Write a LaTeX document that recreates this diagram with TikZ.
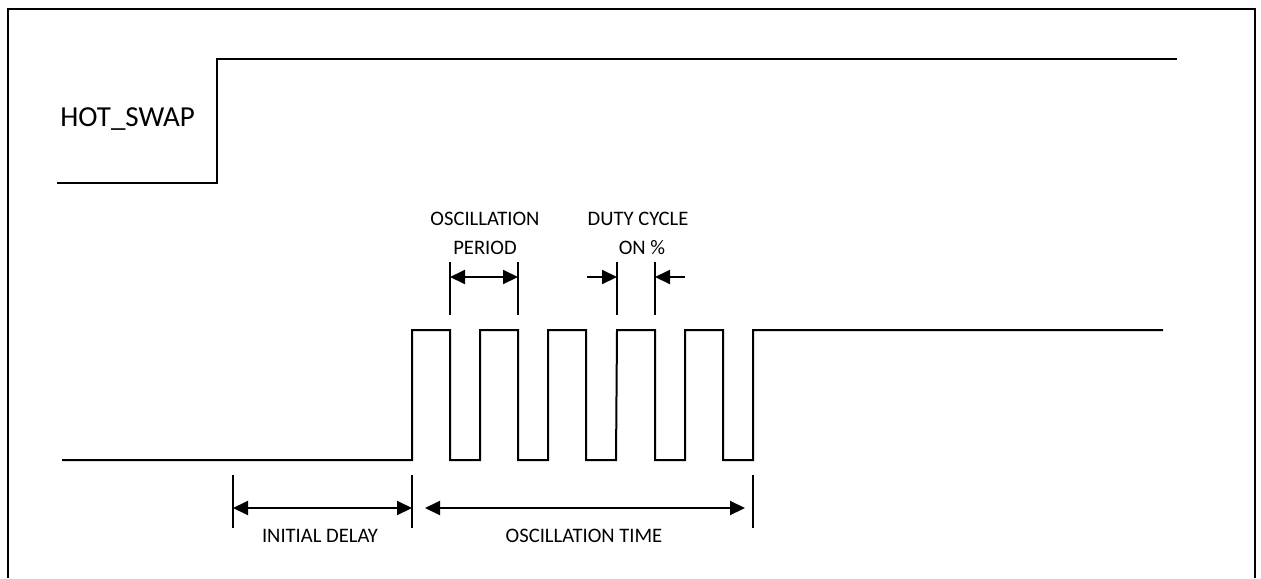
\documentclass[tikz,border=0pt]{standalone}
\usepackage{fontspec}
\setmainfont{Carlito}
\usetikzlibrary{arrows.meta}
\tikzstyle{frame} = [line width=1pt]
\tikzstyle{wave} = [line width=1pt, line join=miter]
\tikzstyle{tick} = [line width=1pt]
\tikzstyle{dimarrow} = [line width=1pt, {Triangle[length=7.5pt,width=7pt]}-{Triangle[length=7.5pt,width=7pt]}]
\tikzstyle{inarrow} = [line width=1pt, -{Triangle[length=7.5pt,width=7pt]}]
\tikzstyle{lbl} = [inner sep=0pt, anchor=base, font=\fontsize{10.3}{12}\selectfont]
\tikzstyle{siglbl} = [inner sep=0pt, anchor=base west, font=\fontsize{14.5}{17}\selectfont]

\begin{document}
\begin{tikzpicture}[x=0.5pt, y=-0.5pt]
\useasboundingbox (0,0) rectangle (1261,578);
\draw [frame] (8,578) -- (8,9) -- (1255,9) -- (1255,578);

\node (hotswap) [siglbl] at (60,126) {HOT\_SWAP};
\draw [wave] (57,183) -- (217,183) -- (217,59) -- (1177,59);

\draw [wave] (62,460) -- (412,460)
  foreach \x in {412,480,548,617,685} {-- (\x,330) -- (\x+38,330) -- (\x+38,460) -- (\x+68,460)}
  -- (753,330) -- (1163,330);

\coordinate (pertopL) at (450,262);  \coordinate (perbotL) at (450,315);
\coordinate (pertopR) at (518,262);  \coordinate (perbotR) at (518,315);
\coordinate (dutytopL) at (617,262); \coordinate (dutybotL) at (617,315);
\coordinate (dutytopR) at (655,262); \coordinate (dutybotR) at (655,315);
\coordinate (dlytopL) at (233,475);  \coordinate (dlybotL) at (233,528);
\coordinate (dlytopR) at (412,475);  \coordinate (dlybotR) at (412,528);
\coordinate (osctopR) at (753,475);  \coordinate (oscbotR) at (753,528);

\coordinate (perL) at (450,277);  \coordinate (perR) at (518,277);
\coordinate (dutyinL) at (587,277); \coordinate (dutyL) at (617,277);
\coordinate (dutyinR) at (685,277); \coordinate (dutyR) at (655,277);
\coordinate (dlyL) at (233,508);  \coordinate (dlyR) at (412,508);
\coordinate (oscL) at (425,508);  \coordinate (oscR) at (745,508);

\node (oscper1) [lbl] at (485,225) {OSCILLATION};
\node (oscper2) [lbl] at (485,254) {PERIOD};
\node (duty1) [lbl] at (638,225) {DUTY CYCLE};
\node (duty2) [lbl] at (642,254) {ON \%};
\node (delay) [lbl] at (320,542) {INITIAL DELAY};
\node (osctime) [lbl] at (584,542) {OSCILLATION TIME};

\draw [tick] (pertopL) -- (perbotL);
\draw [tick] (pertopR) -- (perbotR);
\draw [tick] (dutytopL) -- (dutybotL);
\draw [tick] (dutytopR) -- (dutybotR);
\draw [tick] (dlytopL) -- (dlybotL);
\draw [tick] (dlytopR) -- (dlybotR);
\draw [tick] (osctopR) -- (oscbotR);

\draw [dimarrow] (perL) -- (perR);
\draw [inarrow] (dutyinL) -- (dutyL);
\draw [inarrow] (dutyinR) -- (dutyR);
\draw [dimarrow] (dlyL) -- (dlyR);
\draw [dimarrow] (oscL) -- (oscR);
\end{tikzpicture}
\end{document}
